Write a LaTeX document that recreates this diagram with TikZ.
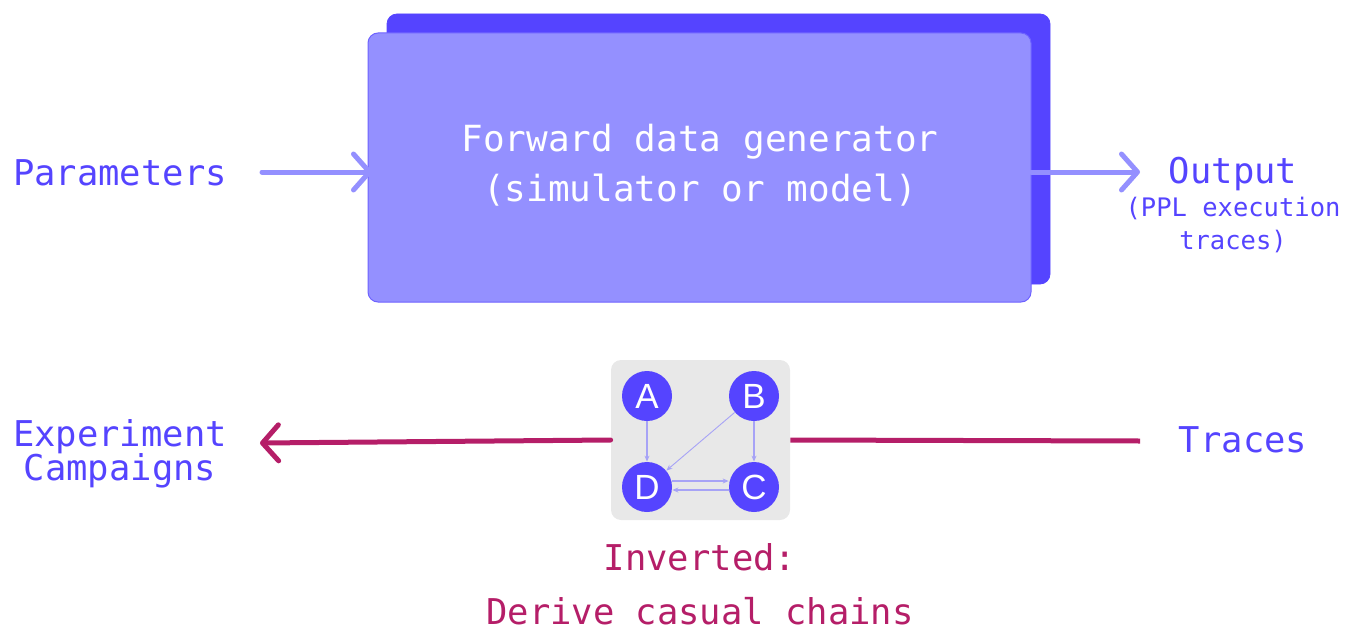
\documentclass[tikz,border=0pt]{standalone}
\usepackage{fontspec}
\usepackage{xcolor}
\usepackage{tikz}
\usetikzlibrary{arrows.meta,positioning}
\setmonofont{DejaVu Sans Mono}
\newfontfamily\lettersfont{Liberation Sans}
\definecolor{deepviolet}{HTML}{5544FF}
\definecolor{softviolet}{HTML}{9490FF}
\definecolor{edgeviolet}{HTML}{A7A3F6}
\definecolor{plum}{HTML}{B51E68}
\definecolor{boxgray}{HTML}{E8E8E8}

\tikzset{
  label text/.style={font=\ttfamily\fontsize{35.5}{42}\selectfont, text=deepviolet, align=center, inner sep=0pt},
  small text/.style={font=\ttfamily\fontsize{25.5}{31}\selectfont, text=deepviolet, align=center, inner sep=0pt},
  dag node/.style={circle, fill=deepviolet, minimum size=50pt, inner sep=0pt, text=white, font=\lettersfont\fontsize{35}{35}\selectfont},
  dag edge/.style={draw=edgeviolet, line width=1.6pt, -{Stealth[length=6pt,width=5pt]}},
  flow arrow/.style={line width=5pt, line cap=round, line join=round, -{Straight Barb[length=16pt,width=36pt,round]}}
}

\begin{document}
\begin{tikzpicture}[x=1pt, y=-1pt, thick]
\useasboundingbox (0,0) rectangle (1354,634);

\filldraw[deepviolet, rounded corners=10pt] (387,14) rectangle (1050,284);
\filldraw[fill=softviolet, draw=deepviolet!60!softviolet, line width=1pt, rounded corners=10pt] (368,33) rectangle (1031,302);
\node[label text, text=white, font=\ttfamily\fontsize{36}{42}\selectfont] (generator) at (700,165) {Forward data generator\\[8pt](simulator or model)};
\coordinate (boxleft) at (372,172);
\coordinate (boxright) at (1031,172);

\node[label text] (params) at (120,173) {Parameters};
\node[label text] (output) at (1233,174) {Output};
\node[small text] (traceinfo) at (1233,225) {(PPL execution\\[2pt]traces)};
\coordinate (paramsend) at (262,172);
\coordinate (outputend) at (1140,172);

\draw[flow arrow, draw=softviolet] (paramsend) to (boxleft);
\draw[flow arrow, draw=softviolet] (boxright) to (outputend);

\node[label text] (campaigns) at (120,454) {Experiment\\[-8pt]Campaigns};
\node[label text] (traces) at (1243,440) {Traces};
\coordinate (tracesend) at (1140,441);
\coordinate (campaignsend) at (260,443);

\node[fill=boxgray, rounded corners=10pt, minimum width=179pt, minimum height=160pt] (graphbox) at (700.5,440) {};
\draw[line width=5pt, plum] (tracesend) to (graphbox.east);
\draw[flow arrow, draw=plum] (graphbox.west) to (campaignsend);

\node[dag node] (A) at (647,396) {A};
\node[dag node] (B) at (754,396) {B};
\node[dag node] (D) at (647,487) {D};
\node[dag node] (C) at (754,487) {C};

\draw[dag edge] (A) to (D);
\draw[dag edge] (B) to (C);
\draw[dag edge, line width=0.9pt] (B) to (D);
\draw[dag edge] ([yshift=6pt]D.east) to ([yshift=6pt]C.west);
\draw[dag edge] ([yshift=-3pt]C.west) to ([yshift=-3pt]D.east);

\node[label text, text=plum] (inverted) at (700,584) {Inverted:\\[12pt]Derive casual chains};
\end{tikzpicture}
\end{document}
